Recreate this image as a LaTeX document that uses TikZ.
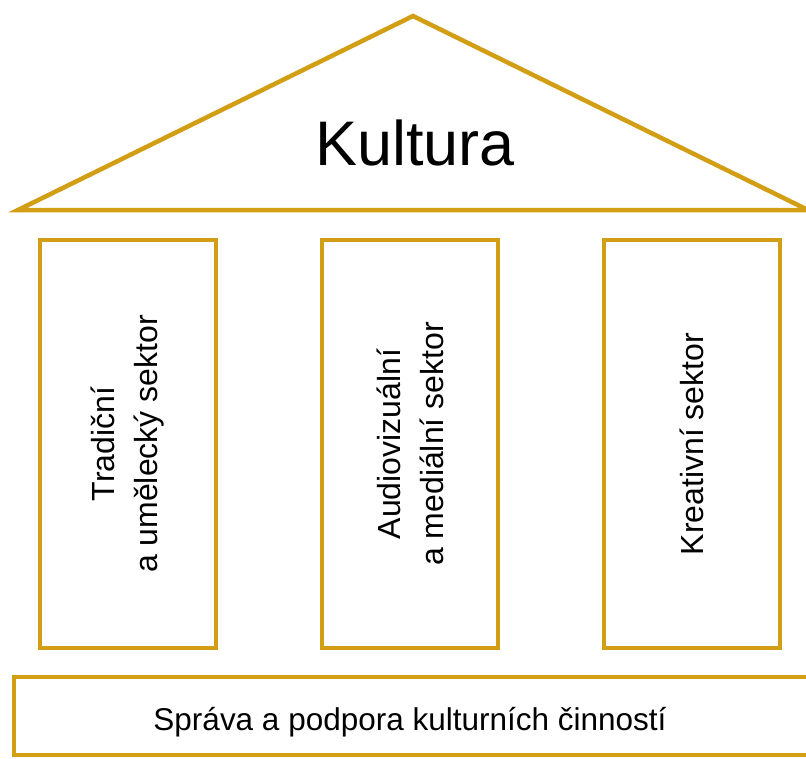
\documentclass[tikz,border=0pt]{standalone}
\usepackage{fontspec}
\setmainfont{Liberation Sans}
\usetikzlibrary{positioning}
\definecolor{templegold}{RGB}{210,158,20}
\begin{document}
\begin{tikzpicture}[x=1pt,y=-1pt,
goldline/.style={
draw=templegold,
line width=4.5pt
},
pillar/.style={
rectangle,
goldline,
rotate=90,
minimum width=408pt,
minimum height=176pt,
align=center,
font=\fontsize{32}{43}\selectfont
},
]
\useasboundingbox (0,0) rectangle (806,758);

% roof
\draw[goldline,line join=miter] (18,210) -- (413,16) -- (808,210) -- cycle;
\node (kultura) [anchor=base,font=\fontsize{63}{70}\selectfont] at (415,165) {Kultura};

% pillars
\node (tradicni) [pillar] at (128,444) {Tradiční\\a umělecký sektor};
\node (audio) [pillar] at (410,444) {Audiovizuální\\a mediální sektor};
\node (kreativni) [pillar] at (692,444) {Kreativní sektor};

% base
\draw[goldline] (14,677) rectangle (830,755);
\node (sprava) [anchor=base,font=\fontsize{31.5}{36}\selectfont] at (410,730) {Správa a podpora kulturních činností};
\end{tikzpicture}
\end{document}
